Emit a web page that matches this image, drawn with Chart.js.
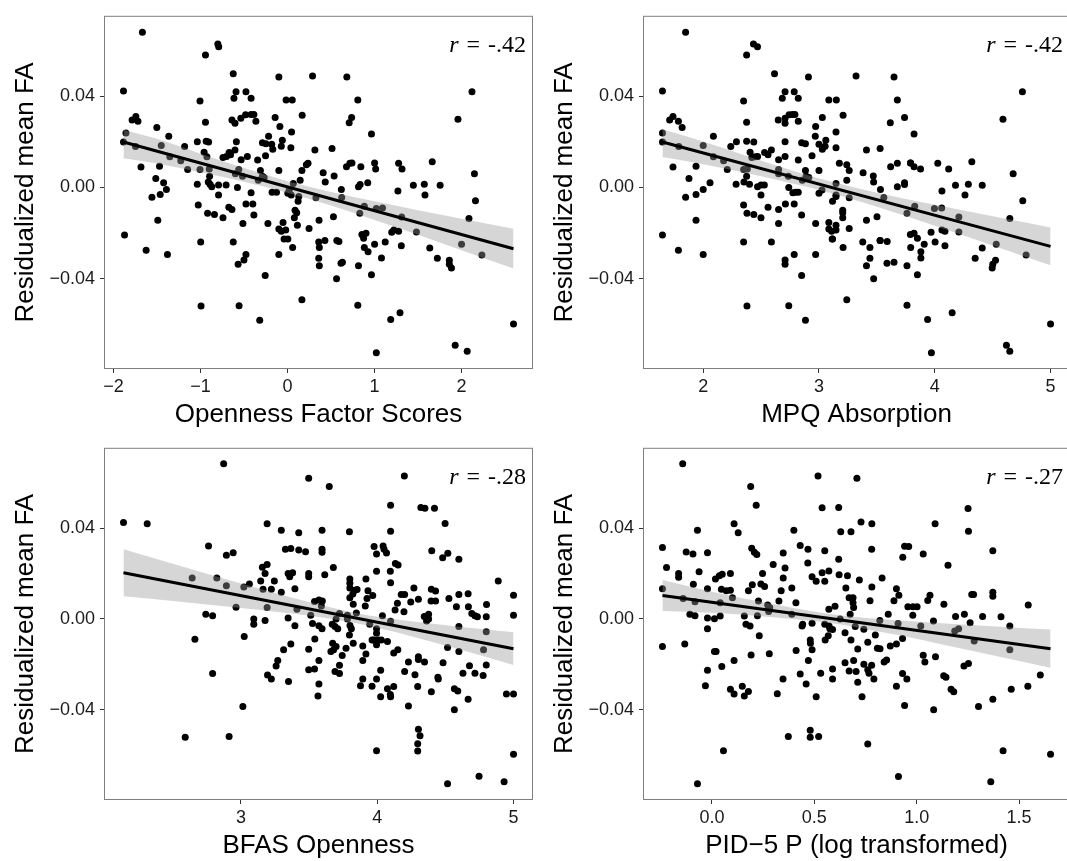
<!DOCTYPE html>
<html>
<head>
<meta charset="utf-8">
<title>Residualized mean FA vs openness measures</title>
<script src="https://cdn.jsdelivr.net/npm/chart.js@4.4.1/dist/chart.umd.min.js"></script>
<style>
  html, body { margin: 0; padding: 0; background: #fff; overflow: hidden; }
  #wrap { position: relative; width: 1067px; height: 861px; overflow: hidden; }
  canvas { position: absolute; }
</style>
</head>
<body>
<div id="wrap">
  <canvas id="c1" width="540" height="430" style="left:0px;top:0px"></canvas>
  <canvas id="c2" width="538" height="430" style="left:539px;top:0px"></canvas>
  <canvas id="c3" width="540" height="430" style="left:0px;top:432px"></canvas>
  <canvas id="c4" width="538" height="430" style="left:539px;top:432px"></canvas>
</div>
<script>
// shared y variable for the two top panels (same subjects, same order)
const faResid12 = [
  0.0681, 0.0629, 0.0617, 0.0581, 0.0499, 0.0484, 0.0489, 0.0484, 0.0423, 0.0420,
  0.0420, 0.0391, 0.0391, 0.0379, 0.0383, 0.0383, 0.0384, 0.0420, 0.0299, 0.0296,
  0.0311, 0.0290, 0.0263, 0.0224, 0.0239, 0.0199, 0.0179, 0.0184, 0.0089, 0.0093,
  0.0134, 0.0117, 0.0179, 0.0079, 0.0039, 0.0020, -0.0009, -0.0031, -0.0043, -0.0144,
  -0.0209, -0.0276, -0.0294, 0.0200, 0.0203, 0.0199, 0.0286, 0.0154, 0.0134, 0.0079,
  0.0081, 0.0049, 0.0014, 0.0024, 0.0014, 0.0003, 0.0011, 0.0011, -0.0033, -0.0077,
  -0.0113, -0.0119, -0.0133, -0.0087, -0.0097, -0.0240, -0.0521, -0.0240, -0.0337, -0.0319,
  -0.0294, -0.0519, -0.0159, -0.0073, -0.0073, -0.0023, 0.0000, -0.0121, -0.0387, -0.0583,
  -0.0159, -0.0294, 0.0131, 0.0136, 0.0153, 0.0143, 0.0164, 0.0200, 0.0296, 0.0281,
  0.0303, 0.0319, 0.0320, 0.0320, 0.0290, 0.0121, 0.0136, 0.0079, 0.0060, 0.0049,
  0.0120, 0.0196, 0.0191, 0.0224, 0.0307, 0.0139, 0.0074, 0.0049, 0.0043, 0.0031,
  0.0189, 0.0167, 0.0267, 0.0181, 0.0207, 0.0074, 0.0174, 0.0243, 0.0317, 0.0164,
  0.0171, 0.0099, 0.0106, 0.0074, 0.0031, -0.0021, -0.0021, -0.0026, -0.0011, -0.0033,
  0.0017, -0.0040, -0.0061, -0.0100, -0.0111, -0.0133, -0.0154, -0.0183, -0.0193, -0.0187,
  -0.0226, -0.0226, -0.0264, -0.0166, -0.0180, -0.0046, -0.0493, -0.0144, -0.0240, -0.0264,
  -0.0233, -0.0311, -0.0344, 0.0064, 0.0024, 0.0050, -0.0009, -0.0044, -0.0129, -0.0233,
  -0.0237, -0.0333, -0.0329, -0.0401, 0.0091, 0.0106, 0.0107, 0.0091, 0.0284, 0.0307,
  0.0003, 0.0013, -0.0083, -0.0114, 0.0020, -0.0207, -0.0201, -0.0223, -0.0264, -0.0283,
  -0.0344, -0.0517, 0.0234, 0.0107, 0.0081, -0.0093, -0.0090, -0.0250, -0.0383, -0.0310,
  -0.0240, -0.0726, -0.0580, -0.0550, 0.0106, 0.0081, -0.0016, -0.0130, -0.0197, -0.0187,
  -0.0193, -0.0256, -0.0196, 0.0009, 0.0014, -0.0033, 0.0113, 0.0009, -0.0266, -0.0311,
  -0.0320, -0.0337, -0.0354, -0.0249, -0.0136, 0.0060, -0.0059, -0.0297, -0.0693, -0.0719, -0.0600
];

// Openness factor scores
const opennessX = [
  -1.667, -0.80, -0.79, -0.942, -0.623, -0.099, 0.288, 0.682, -1.884, -0.591,
  -0.477, -0.615, -0.418, -1.005, -0.016, 0.055, 0.808, 2.12, 1.959, -1.785,
  -1.742, -1.718, -1.501, -1.364, -1.856, -1.884, -1.746, -1.45, -1.683, -1.47,
  -1.352, -1.226, -1.182, -1.147, -1.513, -1.423, -1.391, -1.462, -1.557, -1.49,
  -1.872, -1.624, -1.379, -1.036, -0.934, -0.906, -0.942, -0.958, -0.926, -1.005,
  -0.899, -0.895, -1.036, -0.91, -0.89, -0.87, -0.792, -0.705, -0.792, -1.025,
  -0.918, -0.839, -0.741, -0.674, -0.638, -0.997, -0.993, -0.623, -0.567, -0.50,
  -0.477, -0.556, -0.512, -0.477, -0.398, -0.418, -0.575, -0.386, -0.256, -0.319,
  -0.225, -0.099, -0.741, -0.701, -0.67, -0.654, -0.603, -0.587, -0.638, -0.603,
  -0.536, -0.481, -0.418, -0.386, -0.363, -0.532, -0.461, -0.56, -0.599, -0.516,
  -0.343, -0.288, -0.248, -0.217, -0.142, -0.252, -0.311, -0.288, -0.268, -0.335,
  -0.181, -0.169, -0.087, -0.071, -0.059, -0.099, 0.039, 0.047, 0.169, 0.315,
  0.512, 0.217, 0.236, 0.166, 0.146, -0.177, -0.126, 0.004, 0.020, 0.043,
  0.067, 0.13, 0.122, 0.087, 0.106, 0.079, -0.051, -0.099, -0.071, -0.02,
  -0.039, 0.004, 0.059, 0.114, 0.248, 0.327, 0.166, 0.363, 0.359, 0.366,
  0.43, 0.359, 0.366, 0.41, 0.434, 0.536, 0.619, 0.623, 0.528, 0.567,
  0.591, 0.615, 0.631, 0.564, 0.678, 0.717, 0.741, 0.843, 0.709, 0.737,
  0.816, 0.835, 0.883, 0.831, 0.922, 0.855, 0.902, 0.875, 0.883, 0.926,
  0.816, 0.808, 0.965, 1.001, 1.013, 1.021, 1.092, 1.001, 0.965, 1.08,
  1.123, 1.021, 1.186, 1.293, 1.277, 1.316, 1.269, 1.312, 1.198, 1.222,
  1.277, 1.308, 1.482, 1.446, 1.572, 1.58, 1.663, 1.754, 1.635, 1.722,
  1.86, 1.86, 1.884, 2.0, 2.085, 2.148, 2.16, 2.234, 1.927, 2.065, 2.597
];

// MPQ Absorption
const absorptionX = [
  1.848, 2.434, 2.469, 2.375, 2.616, 2.909, 3.320, 3.648, 1.648, 2.707,
  2.786, 2.683, 2.821, 2.349, 3.085, 3.15, 3.677, 4.757, 4.589, 1.71,
  1.739, 1.786, 1.818, 2.088, 1.648, 1.648, 1.789, 2.0, 1.739, 1.938,
  2.088, 2.176, 2.238, 2.208, 1.877, 2.059, 2.0, 1.938, 1.848, 1.938,
  1.648, 1.786, 2.0, 2.287, 2.375, 2.437, 2.375, 2.405, 2.45, 2.349,
  2.381, 2.375, 2.284, 2.352, 2.40, 2.469, 2.50, 2.528, 2.499, 2.349,
  2.378, 2.437, 2.499, 2.56, 2.651, 2.349, 2.378, 2.589, 2.707, 2.707,
  2.786, 2.739, 2.651, 2.71, 2.786, 2.774, 2.739, 2.85, 2.85, 2.883,
  2.971, 2.971, 2.42, 2.47, 2.53, 2.56, 2.589, 2.707, 2.648, 2.707,
  2.707, 2.742, 2.771, 2.792, 2.821, 2.651, 2.707, 2.651, 2.651, 2.736,
  2.821, 2.85, 2.883, 2.968, 3.029, 2.94, 2.883, 2.889, 2.912, 2.856,
  3.0, 3.029, 2.971, 3.053, 3.059, 3.0, 3.147, 3.147, 3.208, 3.41,
  3.528, 3.24, 3.176, 3.261, 3.24, 2.798, 2.821, 3.0, 3.026, 3.147,
  3.147, 3.147, 3.117, 3.205, 3.205, 3.205, 3.085, 3.085, 3.109, 3.147,
  3.114, 3.117, 3.208, 3.147, 3.261, 3.261, 3.24, 3.41, 3.378, 3.44,
  3.528, 3.44, 3.41, 3.381, 3.472, 3.469, 3.531, 3.56, 3.501, 3.528,
  3.589, 3.587, 3.648, 3.472, 3.619, 3.677, 3.791, 3.821, 3.616, 3.739,
  3.677, 3.739, 3.827, 3.76, 3.739, 3.789, 3.821, 3.85, 3.792, 3.88,
  3.76, 3.76, 3.821, 3.79, 3.877, 3.997, 4.06, 3.909, 3.85, 3.88,
  4.003, 3.971, 3.938, 4.15, 4.026, 4.12, 4.062, 4.208, 3.968, 4.062,
  4.088, 4.088, 4.208, 4.179, 4.29, 4.261, 4.32, 4.41, 4.41, 4.349,
  4.525, 4.501, 4.496, 4.531, 4.648, 4.677, 4.76, 4.789, 4.619, 4.648, 5.0
];

// BFAS Openness
const bfasX = [
  2.873, 3.497, 3.648, 4.199, 2.138, 2.312, 4.098, 4.32, 4.35, 4.42,
  4.498, 3.192, 3.296, 3.424, 3.595, 3.796, 4.098, 2.762, 2.893, 2.943,
  3.326, 3.366, 3.424, 3.474, 3.595, 3.595, 3.977, 4.043, 4.05, 3.995,
  4.068, 4.4, 4.48, 4.518, 4.599, 4.133, 4.153, 3.678, 3.157, 3.192,
  3.177, 3.145, 3.245, 3.346, 3.358, 3.379, 3.497, 3.497, 3.615, 3.995,
  4.096, 4.098, 3.917, 3.799, 3.799, 3.799, 4.888, 2.642, 2.823, 2.893,
  3.021, 3.062, 3.162, 3.223, 3.296, 3.396, 3.192, 2.964, 2.742, 2.792,
  2.662, 2.792, 3.024, 3.094, 3.094, 3.177, 3.014, 2.591, 2.913, 3.346,
  3.396, 3.411, 3.512, 3.525, 3.54, 3.572, 3.597, 3.59, 3.572, 3.595,
  3.67, 3.69, 3.71, 3.698, 3.723, 3.799, 3.821, 3.836, 3.852, 3.932,
  3.824, 3.912, 3.925, 3.967, 3.847, 3.781, 3.781, 3.8, 3.81, 3.945,
  4.038, 4.098, 4.131, 4.148, 4.176, 4.201, 4.196, 4.246, 4.269, 4.302,
  4.345, 4.377, 4.377, 4.362, 4.397, 4.428, 4.395, 4.428, 4.526, 4.581,
  4.599, 4.667, 4.669, 4.599, 4.694, 4.717, 4.735, 4.802, 4.8, 4.8,
  5.0, 5.0, 4.516, 4.599, 4.78, 4.483, 4.677, 4.8, 4.629, 4.717,
  4.777, 4.445, 4.448, 4.397, 4.566, 4.591, 4.667, 4.566, 4.948, 5.0,
  5.0, 4.516, 4.747, 4.931, 4.229, 4.277, 4.302, 4.302, 4.347, 4.229,
  4.201, 4.297, 4.302, 4.314, 4.297, 4.297, 3.995, 4.121, 4.075, 4.096,
  4.098, 4.025, 3.962, 3.995, 4.025, 3.894, 3.877, 3.894, 3.894, 3.917,
  3.962, 3.975, 4.008, 4.03, 3.995, 3.995, 3.995, 4.075, 4.121, 4.151,
  3.824, 3.796, 3.673, 3.698, 3.66, 3.68, 3.743, 3.723, 3.69, 3.723,
  3.771, 3.542, 3.497, 3.572, 3.497, 3.54, 3.572, 3.565, 3.366, 3.313,
  3.27, 3.258, 3.195, 3.223, 3.349
];
const bfasY = [
  0.0683, 0.0619, 0.0583, 0.0629, 0.0424, 0.0419, 0.05, 0.049, 0.0487, 0.0487,
  0.042, 0.0419, 0.039, 0.0379, 0.039, 0.0384, 0.0386, 0.0321, 0.028, 0.0291,
  0.0307, 0.031, 0.0303, 0.0296, 0.0307, 0.0293, 0.0319, 0.0321, 0.0307, 0.0286,
  0.029, 0.03, 0.0269, 0.0289, 0.0263, 0.0244, 0.0237, 0.0226, 0.0227, 0.0239,
  0.02, 0.0167, 0.0167, 0.02, 0.0186, 0.0203, 0.02, 0.0186, 0.0194, 0.021,
  0.021, 0.0159, 0.0176, 0.0176, 0.0157, 0.0136, 0.0167, 0.018, 0.018, 0.0146,
  0.014, 0.0154, 0.0131, 0.0131, 0.0117, 0.0133, 0.005, 0.0051, 0.0021, 0.0014,
  -0.009, -0.024, -0.0077, 0.0, -0.0023, -0.0007, -0.0386, -0.0521, -0.0517, 0.0004,
  -0.003, 0.0043, 0.0016, -0.002, 0.0077, 0.0083, 0.0079, 0.0057, -0.003, -0.0043,
  -0.0023, -0.0033, -0.0043, 0.0, 0.0024, 0.0093, 0.011, 0.0126, 0.0129, 0.0124,
  0.0064, 0.0057, 0.009, 0.0103, 0.0026, 0.0016, 0.0, -0.0029, -0.0043, -0.0024,
  0.0014, -0.001, 0.0039, 0.0069, 0.0107, 0.0107, 0.0031, 0.0074, 0.0136, 0.0086,
  0.0011, 0.0021, 0.0, -0.0009, 0.0131, 0.0123, 0.0079, 0.0079, 0.009, 0.0054,
  0.0107, 0.0111, 0.0053, -0.0033, 0.0024, 0.0014, 0.001, 0.0063, 0.001, -0.0056,
  0.0104, 0.0016, -0.0126, -0.0143, -0.0136, -0.0193, -0.0206, -0.0203, -0.0239, -0.0239,
  -0.0249, -0.0257, -0.0264, -0.0321, -0.0307, -0.0317, -0.0354, -0.04, -0.0331, -0.0331,
  -0.0596, -0.0726, -0.0693, -0.0717, -0.0383, -0.0246, -0.0179, -0.0167, -0.019, -0.019,
  -0.0231, -0.0297, -0.0486, -0.0514, -0.0549, -0.0581, -0.058, -0.0297, -0.0307, -0.0333,
  -0.0343, -0.0343, -0.0296, -0.0264, -0.0226, -0.0264, -0.0294, -0.0183, -0.0119, -0.0154,
  -0.0093, -0.0093, -0.0093, -0.0093, -0.0114, -0.0063, -0.0043, -0.01, -0.015, -0.0136,
  -0.0107, -0.0071, -0.0107, -0.0121, -0.0143, -0.0136, -0.0161, -0.0204, -0.0231, -0.024,
  -0.0129, -0.0089, -0.0134, -0.0183, -0.0224, -0.0221, -0.0286, -0.0339, -0.0111, -0.0136,
  -0.0183, -0.0207, -0.0247, -0.0264, -0.0276
];

// PID-5 P (log transformed)
const pidX = [
  -0.143, 0.518, 0.708, 0.189, 0.216, 0.538, 0.619, 1.251, 0.108, 0.128,
  -0.071, 0.4, 0.629, 0.679, 0.728, 0.781, 1.09, 1.253, -0.242, -0.126,
  -0.093, -0.022, 0.194, 0.207, 0.219, 0.348, 0.431, 0.469, 0.551, 0.78,
  0.941, 0.961, 0.932, 1.032, 1.372, -0.222, 0.299, 0.357, 0.619, 0.468,
  1.153, -0.163, -0.163, -0.063, 0.017, 0.036, 0.05, 0.09, 0.348, 0.247,
  0.489, 0.509, 0.538, 0.551, 0.571, 0.621, 0.662, 0.72, 0.831, -0.091,
  -0.242, -0.022, 0.046, 0.07, 0.09, 0.178, 0.197, 0.239, 0.257, 0.338,
  0.39, 0.654, 0.781, 0.901, 0.913, 1.065, 1.054, 1.269, 1.278, 1.372,
  1.372, 1.133, 1.545, -0.141, -0.083, 0.04, 0.1, 0.227, 0.272, 0.282,
  0.277, 0.327, 0.41, 0.571, 0.601, 0.67, 0.689, 0.689, 0.692, 0.772,
  0.889, 0.957, 0.982, 1.002, -0.108, -0.083, -0.022, 0.012, 0.04, -0.022,
  0.158, 0.166, 0.186, 0.222, 0.231, 0.39, 0.443, 0.44, 0.489, 0.551,
  0.572, 0.589, 0.626, 0.65, 0.675, 0.7, 0.742, 0.82, 0.798, 0.861,
  0.909, 0.981, 1.02, 1.082, 1.19, 1.233, 1.261, 1.186, 1.205, 1.322,
  1.412, 1.455, 1.281, 1.455, -0.242, -0.133, 0.012, 0.02, -0.022, -0.032,
  0.048, 0.108, 0.09, 0.108, 0.148, 0.158, 0.178, 0.191, 0.28, 0.319,
  0.347, 0.373, 0.056, -0.071, 0.411, 0.431, 0.46, 0.471, 0.48, 0.481,
  0.489, 0.48, 0.48, 0.521, 0.531, 0.509, 0.553, 0.568, 0.576, 0.589,
  0.589, 0.65, 0.679, 0.67, 0.692, 0.704, 0.712, 0.712, 0.733, 0.742,
  0.761, 0.767, 0.78, 0.761, 0.791, 0.761, 0.808, 0.821, 0.841, 0.853,
  0.871, 0.901, 0.931, 0.901, 0.931, 0.952, 0.941, 0.911, 1.032, 1.04,
  1.092, 1.083, 1.132, 1.143, 1.168, 1.181, 1.231, 1.253, 1.302, 1.372,
  1.462, 1.543, 1.604, 1.422, 1.362, 1.654
];
const pidY = [
  0.0683, 0.0629, 0.0619, 0.0583, 0.05, 0.0489, 0.049, 0.0486, 0.0419, 0.0379,
  0.039, 0.039, 0.0384, 0.0384, 0.0426, 0.0419, 0.0419, 0.0386, 0.0314, 0.0294,
  0.0286, 0.0291, 0.0311, 0.0293, 0.0283, 0.029, 0.0323, 0.0307, 0.03, 0.0307,
  0.032, 0.0319, 0.0271, 0.0286, 0.03, 0.0226, 0.0239, 0.0224, 0.0263, 0.0246,
  0.0236, 0.02, 0.0183, 0.0207, 0.0176, 0.019, 0.0197, 0.02, 0.018, 0.02,
  0.0186, 0.0166, 0.0203, 0.0166, 0.0211, 0.0194, 0.019, 0.0171, 0.018, 0.0153,
  0.0133, 0.0133, 0.0131, 0.0124, 0.0126, 0.0124, 0.015, 0.0154, 0.0143, 0.0124,
  0.0136, 0.0136, 0.014, 0.0133, 0.0104, 0.0104, 0.0081, 0.0107, 0.0107, 0.0117,
  0.01, 0.0064, 0.0061, 0.009, 0.0076, 0.0071, 0.0093, 0.0079, 0.0061, 0.005,
  0.0033, 0.0079, 0.0071, 0.0043, 0.0056, 0.0093, 0.0093, 0.0071, 0.005, 0.008,
  0.008, 0.0053, 0.0053, 0.0053, 0.0021, 0.0014, 0.0004, 0.0001, 0.0013, -0.0043,
  0.0013, -0.0024, -0.0031, 0.0014, -0.0074, 0.0021, -0.0024, -0.0031, -0.0019, -0.0024,
  -0.0031, -0.0047, 0.0, -0.0061, 0.0021, -0.0033, -0.0046, -0.0007, -0.0071, 0.0021,
  -0.002, 0.0016, -0.0031, -0.0009, 0.0011, 0.0021, -0.0017, -0.0053, -0.0043, 0.0011,
  0.0009, -0.0031, -0.0097, -0.0136, -0.0121, -0.0111, -0.0143, -0.0143, -0.0226, -0.0294,
  -0.0209, -0.0183, -0.031, -0.0331, -0.0296, -0.0339, -0.0319, -0.0159, -0.0153, -0.0329,
  -0.0264, -0.0517, -0.058, -0.0726, -0.0139, -0.0243, -0.0286, -0.0183, -0.0093, -0.0107,
  -0.0136, -0.049, -0.0521, -0.0517, -0.0239, -0.0343, -0.0093, -0.0074, -0.0043, -0.0221,
  -0.0264, -0.0193, -0.0093, -0.0229, -0.0183, -0.0231, -0.0279, -0.0133, -0.0343, -0.02,
  -0.0224, -0.0239, -0.0204, -0.0103, -0.0264, -0.055, -0.0129, -0.0131, -0.019, -0.0181,
  -0.0119, -0.011, -0.0086, -0.0296, -0.024, -0.0264, -0.0381, -0.0694, -0.016, -0.019,
  -0.0167, -0.04, -0.025, -0.0257, -0.031, -0.0321, -0.0207, -0.0196, -0.0386, -0.0354,
  -0.031, -0.0296, -0.0247, -0.058, -0.0717, -0.0596
];

// fitted lines (end points) and 95% CI bands
const fit1X = [-1.884, 2.597];
const fit1Y = [0.0199, -0.0269];
const band1X = [-1.884, -1.5, -1.0, -0.5, 0.0, 0.5, 1.0, 1.5, 2.0, 2.597];
const band1Lo = [0.0128, 0.0105, 0.0066, 0.0025, -0.0023, -0.0080, -0.0143, -0.0208, -0.0276, -0.0356];
const band1Hi = [0.0253, 0.0213, 0.0148, 0.0085, 0.0027, -0.0020, -0.0061, -0.0100, -0.0138, -0.0182];

const fit2X = [1.648, 5.0];
const fit2Y = [0.0199, -0.0259];
const band2X = [1.648, 2.0, 2.5, 3.06, 3.5, 4.0, 4.5, 5.0];
const band2Lo = [0.0133, 0.0101, 0.0049, -0.0019, -0.0085, -0.0168, -0.0255, -0.0342];
const band2Hi = [0.0255, 0.0201, 0.0117, 0.0031, -0.0023, -0.0076, -0.0127, -0.0176];

const fit3X = [2.138, 5.0];
const fit3Y = [0.0203, -0.0131];
const band3X = [2.138, 2.5, 3.0, 3.5, 3.84, 4.25, 4.6, 5.0];
const band3Lo = [0.0100, 0.0079, 0.0048, 0.0014, -0.0018, -0.0076, -0.0134, -0.0203];
const band3Hi = [0.0306, 0.0243, 0.0156, 0.0074, 0.0026, -0.0010, -0.0034, -0.0059];

const fit4X = [-0.242, 1.654];
const fit4Y = [0.0103, -0.0131];
const band4X = [-0.242, 0.0, 0.25, 0.56, 0.9, 1.2, 1.45, 1.654];
const band4Lo = [0.0035, 0.0027, 0.0011, -0.0016, -0.0070, -0.0127, -0.0175, -0.0215];
const band4Hi = [0.0171, 0.0119, 0.0073, 0.0024, -0.0006, -0.0023, -0.0037, -0.0047];

// axes
const yRange = [-0.0797, 0.0753];
const yTicks = [-0.04, 0, 0.04];
const yTickLabels = ['\u22120.04', '0.00', '0.04'];
const x1Range = [-2.108, 2.821];
const x1Ticks = [-2, -1, 0, 1, 2];
const x1TickLabels = ['\u22122', '\u22121', '0', '1', '2'];
const x2Range = [1.48, 5.168];
const x2Ticks = [2, 3, 4, 5];
const x2TickLabels = ['2', '3', '4', '5'];
const x3Range = [1.995, 5.143];
const x3Ticks = [3, 4, 5];
const x3TickLabels = ['3', '4', '5'];
const x4Range = [-0.337, 1.749];
const x4Ticks = [0, 0.5, 1, 1.5];
const x4TickLabels = ['0.0', '0.5', '1.0', '1.5'];

const yTitle = 'Residualized mean FA';
const xTitles = ['Openness Factor Scores', 'MPQ Absorption', 'BFAS Openness', 'PID\u22125 P (log transformed)'];
const rValues = ['-.42', '-.42', '-.28', '-.27'];

const SANS = '"Liberation Sans", Arial, Helvetica, sans-serif';
const SERIF = '"Liberation Serif", "Times New Roman", serif';

// frame, axis titles and the r annotation
const decor = {
  id: 'decor',
  afterDraw(chart, args, o) {
    const ctx = chart.ctx, a = chart.chartArea;
    ctx.save();
    ctx.strokeStyle = '#7f7f7f';
    ctx.lineWidth = 1;
    ctx.strokeRect(a.left + 0.5, a.top + 0.5, a.right - a.left - 1, a.bottom - a.top - 1);

    ctx.fillStyle = '#000';
    ctx.font = '26px ' + SANS;
    ctx.textAlign = 'center';
    ctx.textBaseline = 'alphabetic';
    ctx.fillText(o.xTitle, (a.left + a.right) / 2, a.bottom + 53);

    ctx.save();
    ctx.translate(a.left - 71, (a.top + a.bottom) / 2);
    ctx.rotate(-Math.PI / 2);
    ctx.fillText(yTitle, 0, 0);
    ctx.restore();

    // r = value, r in italics
    const R = a.right - 7, B = a.top + 36;
    ctx.textAlign = 'right';
    ctx.font = '24px ' + SERIF;
    ctx.fillText(o.r, R, B);
    let x = R - ctx.measureText(o.r).width - 8;
    ctx.fillText('=', x, B);
    x -= ctx.measureText('=').width + 8;
    ctx.font = 'italic 24px ' + SERIF;
    ctx.fillText('r', x, B);
    ctx.restore();
  }
};

function pts(xs, ys) {
  return xs.map((x, i) => ({ x: x, y: ys[i] }));
}

function makePanel(id, xs, ys, fitX, fitY, bandX, bandLo, bandHi, xRange, xTicks, xTickLabels, xTitle, r, plotRight, xAxisH) {
  const canvas = document.getElementById(id);
  const tickFont = { family: SANS, size: 18 };
  new Chart(canvas, {
    type: 'scatter',
    data: {
      datasets: [
        {
          data: pts(xs, ys),
          pointRadius: 3.5,
          pointBackgroundColor: '#000',
          pointBorderWidth: 0,
          order: 3
        },
        {
          type: 'line',
          data: pts(bandX, bandHi),
          showLine: true,
          borderWidth: 0,
          borderColor: 'rgba(0,0,0,0)',
          pointRadius: 0,
          cubicInterpolationMode: 'monotone',
          fill: '+1',
          backgroundColor: 'rgba(153,153,153,0.4)',
          order: 2
        },
        {
          type: 'line',
          data: pts(bandX, bandLo),
          showLine: true,
          borderWidth: 0,
          borderColor: 'rgba(0,0,0,0)',
          pointRadius: 0,
          cubicInterpolationMode: 'monotone',
          fill: false,
          order: 2
        },
        {
          type: 'line',
          data: pts(fitX, fitY),
          showLine: true,
          borderColor: '#000',
          borderWidth: 3,
          pointRadius: 0,
          fill: false,
          order: 1
        }
      ]
    },
    options: {
      responsive: false,
      animation: false,
      events: [],
      layout: { padding: { left: 0, top: 9, right: canvas.width - plotRight, bottom: 0 } },
      plugins: {
        legend: { display: false },
        tooltip: { enabled: false },
        decor: { xTitle: xTitle, r: r }
      },
      scales: {
        x: {
          type: 'linear',
          min: xRange[0],
          max: xRange[1],
          afterBuildTicks: s => { s.ticks = xTicks.map(v => ({ value: v })); },
          afterFit: s => { s.height = xAxisH; },
          ticks: {
            callback: v => xTickLabels[xTicks.indexOf(v)],
            font: tickFont, color: '#1a1a1a', padding: 3,
            maxRotation: 0, autoSkip: false
          },
          grid: { drawOnChartArea: false, drawTicks: true, tickLength: 4, color: '#333', lineWidth: 1 },
          border: { display: false }
        },
        y: {
          type: 'linear',
          min: yRange[0],
          max: yRange[1],
          afterBuildTicks: s => { s.ticks = yTicks.map(v => ({ value: v })); },
          afterFit: s => { s.width = 104; },
          ticks: {
            callback: v => yTickLabels[yTicks.indexOf(v)],
            font: tickFont, color: '#1a1a1a', padding: 5,
            autoSkip: false
          },
          grid: { drawOnChartArea: false, drawTicks: true, tickLength: 4, color: '#333', lineWidth: 1 },
          border: { display: false }
        }
      }
    },
    plugins: [decor]
  });
}

makePanel('c1', opennessX, faResid12, fit1X, fit1Y, band1X, band1Lo, band1Hi,
  x1Range, x1Ticks, x1TickLabels, xTitles[0], rValues[0], 533, 61);
makePanel('c2', absorptionX, faResid12, fit2X, fit2Y, band2X, band2Lo, band2Hi,
  x2Range, x2Ticks, x2TickLabels, xTitles[1], rValues[1], 531, 61);
makePanel('c3', bfasX, bfasY, fit3X, fit3Y, band3X, band3Lo, band3Hi,
  x3Range, x3Ticks, x3TickLabels, xTitles[2], rValues[2], 533, 62);
makePanel('c4', pidX, pidY, fit4X, fit4Y, band4X, band4Lo, band4Hi,
  x4Range, x4Ticks, x4TickLabels, xTitles[3], rValues[3], 531, 62);
</script>
</body>
</html>
